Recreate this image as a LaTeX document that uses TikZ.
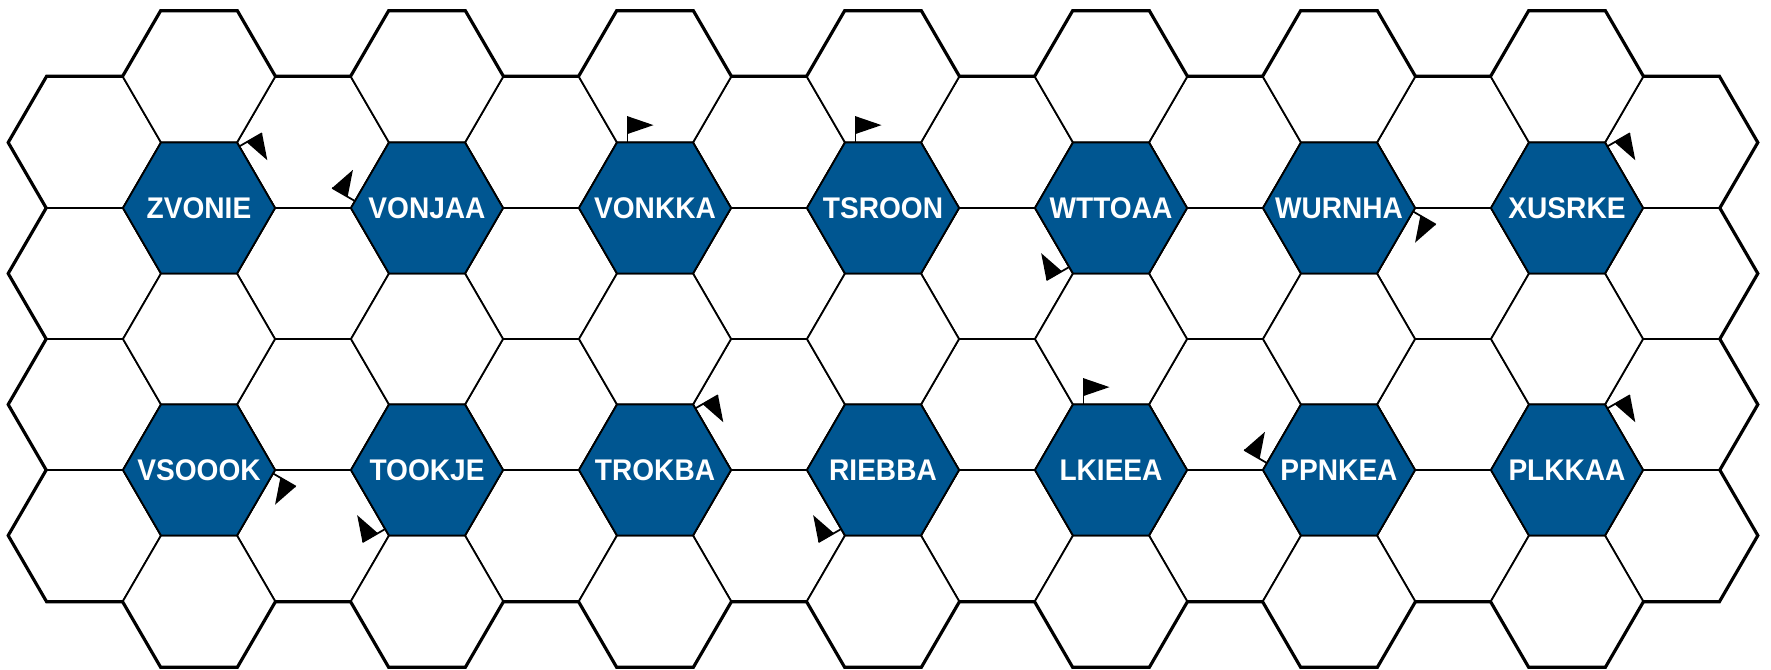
\documentclass[tikz,border=0pt]{standalone}
\usepackage{fontspec}
\newfontfamily\cityfont[FakeStretch=0.94]{Liberation Sans}
\usepackage{tikz}
\usetikzlibrary{positioning}
\definecolor{cityblue}{RGB}{0,86,145}

% one hex cell round the origin
\newcommand{\hexcell}{(-76,0) -- (-38,65.5) -- (38,65.5) -- (76,0) -- (38,-65.5) -- (-38,-65.5) -- cycle}
% flag on a city: node, start corner, offset along the edge
\newcommand{\cityflag}[3]{%
	\begin{scope}[shift={(#1.center)}, shift={({76*cos(#2)},{75.6*sin(#2)})}, rotate={#2-120}, shift={(#3,0)}]
		\draw[flagpole] (0,0) -- (0,26.3);
		\fill (0,26.3) -- (0,8.5) -- (26,17.4) -- cycle;
	\end{scope}}

\tikzset{
	gridthick/.style={draw=black, line width=1.3pt},
	gridthin/.style={draw=black, fill=white, line width=0.5pt},
	cityfill/.style={draw=black, fill=cityblue, line width=0.5pt},
	citylabel/.style={on grid, text=white, inner sep=0pt,
		font=\cityfont\bfseries\fontsize{8.5}{10}\selectfont},
	flagpole/.style={line width=0.5pt},
}

\begin{document}
\begin{tikzpicture}[x=0.1mm, y=0.1mm]
	\useasboundingbox (0,0) rectangle (1771,669);
	%% grid: thick pass, then white cells
	\foreach \k in {0,2,...,14} \foreach \j in {0,...,3}
		\draw[gridthick, shift={(85+114*\k,526.5-131*\j)}] \hexcell;
	\foreach \k in {1,3,...,13} \foreach \j in {0,...,4}
		\draw[gridthick, shift={(85+114*\k,592-131*\j)}] \hexcell;
	\foreach \k in {0,2,...,14} \foreach \j in {0,...,3}
		\filldraw[gridthin, shift={(85+114*\k,526.5-131*\j)}] \hexcell;
	\foreach \k in {1,3,...,13} \foreach \j in {0,...,4}
		\filldraw[gridthin, shift={(85+114*\k,592-131*\j)}] \hexcell;
	%% cities
	\foreach \k in {1,3,...,13} \foreach \y in {461,199}
		\filldraw[cityfill, shift={(85+114*\k,\y)}] \hexcell;
	\node[citylabel] (zvonie) at (199,461) {ZVONIE};
	\node[citylabel, right=22.8mm of zvonie] (vonjaa) {VONJAA};
	\node[citylabel, right=22.8mm of vonjaa] (vonkka) {VONKKA};
	\node[citylabel, right=22.8mm of vonkka] (tsroon) {TSROON};
	\node[citylabel, right=22.8mm of tsroon] (wttoaa) {WTTOAA};
	\node[citylabel, right=22.8mm of wttoaa] (wurnha) {WURNHA};
	\node[citylabel, right=22.8mm of wurnha] (xusrke) {XUSRKE};
	\node[citylabel, below=26.2mm of zvonie] (vsoook) {VSOOOK};
	\node[citylabel, right=22.8mm of vsoook] (tookje) {TOOKJE};
	\node[citylabel, right=22.8mm of tookje] (trokba) {TROKBA};
	\node[citylabel, right=22.8mm of trokba] (riebba) {RIEBBA};
	\node[citylabel, right=22.8mm of riebba] (lkieea) {LKIEEA};
	\node[citylabel, right=22.8mm of lkieea] (ppnkea) {PPNKEA};
	\node[citylabel, right=22.8mm of ppnkea] (plkkaa) {PLKKAA};
	% flags
	\cityflag{zvonie}{60}{4.5}
	\cityflag{vonjaa}{180}{8}
	\cityflag{vonkka}{120}{10.5}
	\cityflag{tsroon}{120}{10.5}
	\cityflag{wttoaa}{240}{7.5}
	\cityflag{wurnha}{0}{4}
	\cityflag{xusrke}{60}{4.5}
	\cityflag{vsoook}{0}{4}
	\cityflag{tookje}{240}{7.5}
	\cityflag{trokba}{60}{4.5}
	\cityflag{riebba}{240}{7.5}
	\cityflag{lkieea}{120}{10.5}
	\cityflag{ppnkea}{180}{8}
	\cityflag{plkkaa}{60}{4.5}
\end{tikzpicture}
\end{document}
